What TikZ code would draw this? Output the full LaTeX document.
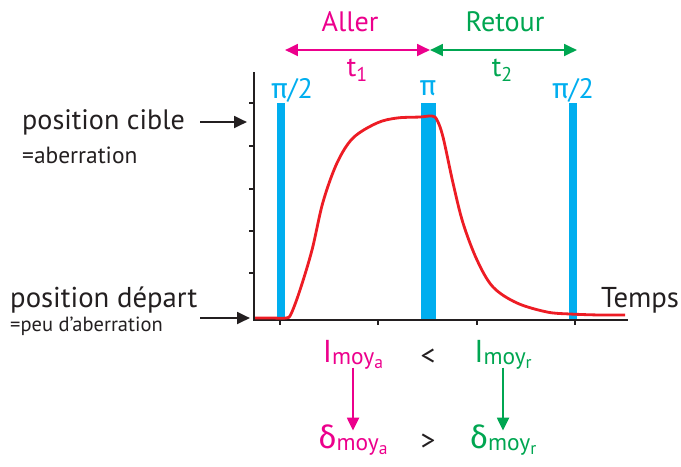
\documentclass[tikz,border=0pt]{standalone}
\usepackage{fontspec}
\setmainfont{PT Sans}
\newfontfamily\grk{Fira Sans}
\usepackage{xcolor}
\usepackage{tikz}
\usetikzlibrary{arrows.meta,calc}

\definecolor{aller}{RGB}{236,0,140}
\definecolor{retour}{RGB}{0,166,81}
\definecolor{pulse}{RGB}{0,174,239}
\definecolor{signal}{RGB}{237,28,36}
\definecolor{axe}{RGB}{35,31,32}

\newcommand{\fs}[1]{\fontsize{#1}{#1}\selectfont}
% indice a deux niveaux : moy puis a / r
\newcommand{\moy}[1]{\raisebox{-1.5pt}{\fs{20}moy\raisebox{-3.5pt}{\fs{15}#1}}}

\begin{document}
\begin{tikzpicture}[>={Triangle[length=11pt,width=10pt]}, x=0.03cm, y=-0.03cm,
    txt/.style={inner sep=0pt, text=axe},
    bar/.style={fill=pulse, draw=none},
    fleche/.style={->, line width=2.2pt}]
  \useasboundingbox (0,0) rectangle (681,466);
  % axes
  \draw[axe, line width=1.8pt] (254,72) -- (254,320) -- (628,320);
  \foreach \yy in {103,146,189,231,273}
    \draw[axe, line width=1.3pt] (249,\yy) -- (254,\yy);
  \foreach \xx in {280,378,477,575}
    \draw[axe, line width=1.3pt] (\xx,320) -- (\xx,325);
  % impulsions
  \fill[bar] (277,103) rectangle (285,319);
  \fill[bar] (421,103) rectangle (436,319);
  \fill[bar] (569,103) rectangle (577,319);
  \node[txt, text=pulse, font=\fs{24}] (p1) at (292,90) {{\grk π}/2};
  \node[txt, text=pulse, font=\fs{24}] (p2) at (428,88) {\grk π};
  \node[txt, text=pulse, font=\fs{24}] (p3) at (573,90) {{\grk π}/2};
  % signal
  \draw[signal, line width=2.4pt, smooth, tension=0.55] plot coordinates {
    (255,318) (272,318) (286,318) (291,314) (300,290) (312,250) (323,202)
    (337,163) (353,138) (377,123) (397,118) (420,117) (432,116)
    (437,120) (443,137) (453,183) (463,223) (477,260) (493,287)
    (517,303) (547,312) (570,314) (600,315) (625,315)};
  % aller / retour
  \coordinate (A0) at (285,50);
  \coordinate (A1) at (430,50);
  \coordinate (A2) at (577,50);
  \draw[fleche, <->, aller] (A0) -- (A1);
  \draw[fleche, <->, retour] (A1) -- (A2);
  \node[txt, text=aller, font=\fs{24}] (aller) at (350,22) {Aller};
  \node[txt, text=aller, font=\fs{24}] (t1) at (357,70) {t\raisebox{-4pt}{\fs{17}1}};
  \node[txt, text=retour, font=\fs{24}] (retour) at (505,22) {Retour};
  \node[txt, text=retour, font=\fs{24}] (t2) at (502,70) {t\raisebox{-4pt}{\fs{17}2}};
  % positions
  \node[txt, anchor=west, font=\fs{24}] (cible) at (22,122) {position cible};
  \node[txt, anchor=west, font=\fs{20}] (aber) at (22,155) {=aberration};
  \node[txt, anchor=west, font=\fs{24.5}] (depart) at (10,300) {position départ};
  \node[txt, anchor=west, font=\fs{17.5}] (peu) at (10,326) {=peu d'aberration};
  \coordinate (C1) at (247,122);
  \coordinate (D1) at (250,318);
  \draw[fleche, axe] (200,122) -- (C1);
  \draw[fleche, axe] (200,318) -- (D1);
  \node[txt, anchor=base west, font=\fs{24.5}] (temps) at (601,307) {Temps};
  % intensites et deplacements
  \node[txt, text=aller, font=\fs{27}] (Ia) at (353,355) {I\moy{a}};
  \node[txt, font=\fs{25}] (inf) at (428,357) {<};
  \node[txt, text=retour, font=\fs{27}] (Ir) at (503,355) {I\moy{r}};
  \node[txt, text=aller, font=\fs{27}] (da) at (353,440) {{\grk δ}\moy{a}};
  \node[txt, font=\fs{25}] (sup) at (428,442) {>};
  \node[txt, text=retour, font=\fs{27}] (dr) at (503,440) {{\grk δ}\moy{r}};
  \draw[fleche, aller] (Ia.south) ++(0,-2) -- ($(da.north)+(0,6)$);
  \draw[fleche, retour] (Ir.south) ++(0,-2) -- ($(dr.north)+(0,6)$);
\end{tikzpicture}
\end{document}
